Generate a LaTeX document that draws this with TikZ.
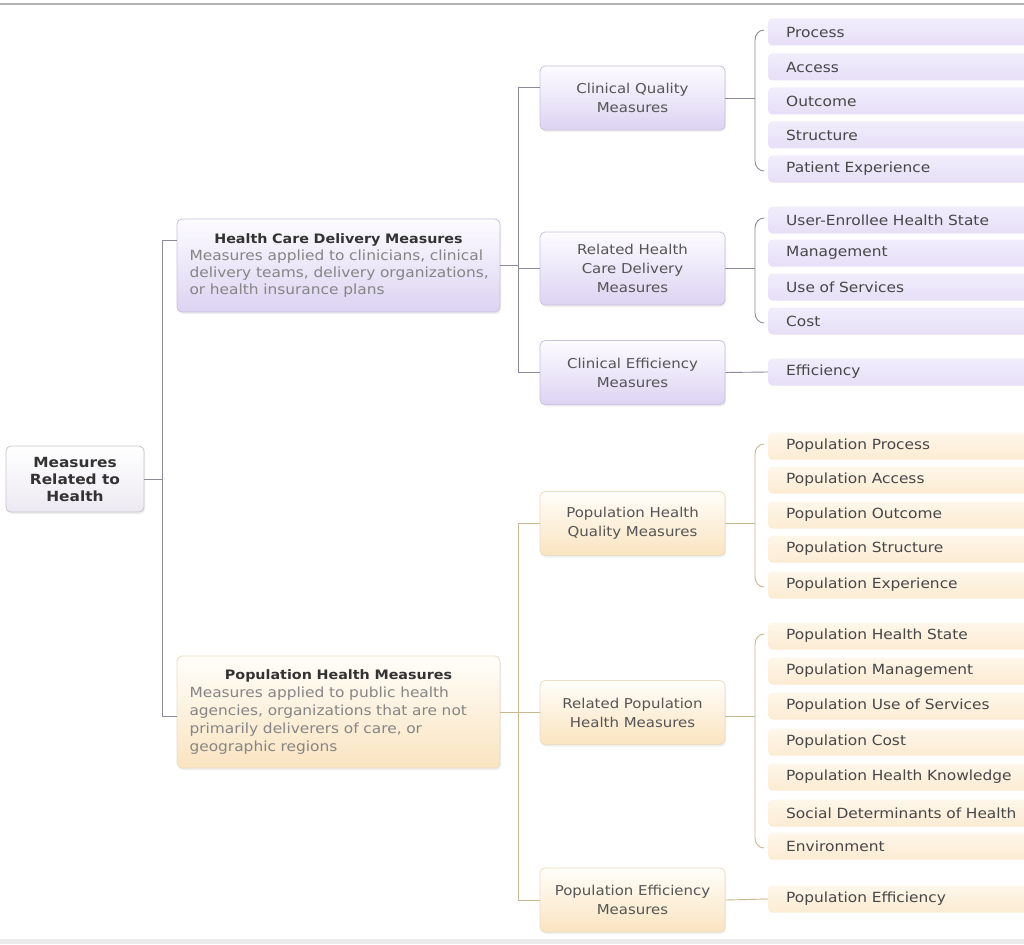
\documentclass[tikz,border=0pt]{standalone}
\usepackage{fontspec}
\setmainfont{DejaVu Sans}[FakeStretch=1.1]
\usetikzlibrary{calc,shadows}
\definecolor{pLeafT}{HTML}{F1EDFC}
\definecolor{pLeafB}{HTML}{E6DFF7}
\definecolor{pBoxT}{HTML}{FDFCFF}
\definecolor{pBoxB}{HTML}{DCD3F2}
\definecolor{pBorder}{HTML}{C9C1DD}
\definecolor{oLeafT}{HTML}{FEF7EA}
\definecolor{oLeafB}{HTML}{FCEBD2}
\definecolor{oBoxT}{HTML}{FFFEFA}
\definecolor{oBoxB}{HTML}{FAE4C0}
\definecolor{oBorder}{HTML}{EADDC2}
\definecolor{rBoxB}{HTML}{EDE9F2}
\definecolor{rBorder}{HTML}{C8C4CE}
\definecolor{pLine}{HTML}{8E8A9A}
\definecolor{oLine}{HTML}{C9B88E}
\definecolor{txtDark}{HTML}{333333}
\definecolor{txtMid}{HTML}{555555}
\definecolor{txtLight}{HTML}{858585}
\tikzset{
  boxbase/.style={rounded corners=5pt, line width=0.8pt, align=center,
    drop shadow={opacity=0.12, shadow xshift=1pt, shadow yshift=-2pt},
    font=\fontsize{13.6}{19}\selectfont, text=txtMid},
  pbox/.style={boxbase, draw=pBorder, top color=pBoxT, bottom color=pBoxB,
    minimum width=185pt, minimum height=64pt},
  obox/.style={boxbase, draw=oBorder, top color=oBoxT, bottom color=oBoxB,
    minimum width=185pt, minimum height=64pt},
  leafbase/.style={rounded corners=4pt, anchor=west, minimum height=27pt,
    text width=240pt, inner xsep=18pt, align=left,
    font=\fontsize{14}{15}\selectfont, text=txtDark!90},
  pleaf/.style={leafbase, top color=pLeafT, bottom color=pLeafB},
  oleaf/.style={leafbase, top color=oLeafT, bottom color=oLeafB},
  pcon/.style={draw=pLine, line width=0.9pt},
  ocon/.style={draw=oLine, line width=0.9pt},
}
\begin{document}
\begin{tikzpicture}[x=1pt,y=-1pt]
\useasboundingbox (0,0) rectangle (1024,944);
\fill[white] (0,0) rectangle (1024,944);
\draw[line width=1.5pt, draw=black!30] (0,4) -- (1024,4);
\fill[black!8] (0,939) rectangle (1024,944);

% root
\node[boxbase, draw=rBorder, top color=white, bottom color=rBoxB,
  minimum width=138pt, minimum height=66pt, text=txtDark,
  font=\bfseries\fontsize{14}{17}\selectfont] (root) at (75,479)
  {Measures\\Related to\\Health};

% level 1
\node[boxbase, draw=pBorder, top color=pBoxT, bottom color=pBoxB,
  minimum width=323pt, minimum height=93pt, text width=305pt, align=left,
  font=\fontsize{14}{17}\selectfont, text=txtLight] (hcd) at (338.5,265.5)
  {\centering{\bfseries\fontsize{13}{17}\selectfont\color{txtDark}Health Care Delivery Measures}\par
   \raggedright\leftskip=3.5pt Measures applied to clinicians, clinical\\ delivery teams, delivery organizations,\\ or health insurance plans\par};
\node[boxbase, draw=oBorder, top color=oBoxT, bottom color=oBoxB,
  minimum width=323pt, minimum height=112pt, text width=305pt, align=left,
  font=\fontsize{14}{18}\selectfont, text=txtLight] (phm) at (338.5,712)
  {\centering{\bfseries\fontsize{13}{20}\selectfont\color{txtDark}Population Health Measures}\par
   \raggedright\leftskip=3.5pt Measures applied to public health\\ agencies, organizations that are not\\ primarily deliverers of care, or\\ geographic regions\par};

% level 2 purple
\node[pbox] (cq) at (632.5,98) {Clinical Quality\\Measures};
\node[pbox, minimum height=73pt] (rh) at (632.5,268.5) {Related Health\\Care Delivery\\Measures};
\node[pbox] (ce) at (632.5,372.5) {Clinical Efficiency\\Measures};

% level 2 orange
\node[obox] (pq) at (632.5,523.5) {Population Health\\Quality Measures};
\node[obox] (rp) at (632.5,712.5) {Related Population\\Health Measures};
\node[obox] (pe) at (632.5,900) {Population Efficiency\\Measures};

% leaves
\node[pleaf] (a1) at (768,32) {Process};
\node[pleaf] (a2) at (768,67) {Access};
\node[pleaf] (a3) at (768,101) {Outcome};
\node[pleaf] (a4) at (768,135) {Structure};
\node[pleaf] (a5) at (768,169) {Patient Experience};
\node[pleaf] (b1) at (768,220) {User-Enrollee Health State};
\node[pleaf] (b2) at (768,253) {Management};
\node[pleaf] (b3) at (768,287) {Use of Services};
\node[pleaf] (b4) at (768,321) {Cost};
\node[pleaf] (c1) at (768,372) {Efficiency};
\node[oleaf] (d1) at (768,446) {Population Process};
\node[oleaf] (d2) at (768,480) {Population Access};
\node[oleaf] (d3) at (768,515) {Population Outcome};
\node[oleaf] (d4) at (768,549) {Population Structure};
\node[oleaf] (d5) at (768,585) {Population Experience};
\node[oleaf] (e1) at (768,636) {Population Health State};
\node[oleaf] (e2) at (768,671) {Population Management};
\node[oleaf] (e3) at (768,706) {Population Use of Services};
\node[oleaf] (e4) at (768,742) {Population Cost};
\node[oleaf] (e5) at (768,777) {Population Health Knowledge};
\node[oleaf] (e6) at (768,813) {Social Determinants of Health};
\node[oleaf] (e7) at (768,846) {Environment};
\node[oleaf] (f1) at (768,899) {Population Efficiency};

% trunk
\coordinate (t1) at (162,240);
\coordinate (t2) at (162,716);
\draw[pcon] (t1) -- (t2);
\draw[pcon] (root.east) -- (root.east -| t1);
\draw[pcon] (t1) -- (t1 -| hcd.west);
\draw[pcon] (t2) -- (t2 -| phm.west);

% purple middle
\coordinate (m1) at (518,87);
\coordinate (m2) at (518,372.5);
\draw[pcon] (m1) -- (m2);
\draw[pcon] (hcd.east) -- (hcd.east -| m1);
\draw[pcon] (m1) -- (m1 -| cq.west);
\draw[pcon] (rh.west -| m1) -- (rh.west);
\draw[pcon] (m2) -- (ce.west);

% orange middle
\coordinate (o1) at (518,523.5);
\coordinate (o2) at (518,900);
\draw[ocon] (o1) -- (o2);
\draw[ocon] (phm.east) -- (phm.east -| o1);
\draw[ocon] (o1) -- (pq.west);
\draw[ocon] (rp.west -| o1) -- (rp.west);
\draw[ocon] (o2) -- (pe.west);

% brackets
\coordinate (ba) at (755,98);
\draw[pcon] (cq.east) -- (ba);
\draw[pcon] ($(a1.west)+(-4,-2)$) to[out=180,in=90] ($(a1.west)+(-13,8)$) -- ($(a5.west)+(-13,-8)$) to[out=-90,in=180] ($(a5.west)+(-4,2)$);
\coordinate (bb) at (755,268.5);
\draw[pcon] (rh.east) -- (bb);
\draw[pcon] ($(b1.west)+(-4,-2)$) to[out=180,in=90] ($(b1.west)+(-13,8)$) -- ($(b4.west)+(-13,-8)$) to[out=-90,in=180] ($(b4.west)+(-4,2)$);
\draw[pcon] (ce.east) -- (c1.west);
\coordinate (bd) at (755,523.5);
\draw[ocon] (pq.east) -- (bd);
\draw[ocon] ($(d1.west)+(-4,-2)$) to[out=180,in=90] ($(d1.west)+(-13,8)$) -- ($(d5.west)+(-13,-8)$) to[out=-90,in=180] ($(d5.west)+(-4,2)$);
\coordinate (be) at (755,716);
\draw[ocon] (rp.east |- be) -- (be);
\draw[ocon] ($(e1.west)+(-4,-2)$) to[out=180,in=90] ($(e1.west)+(-13,8)$) -- ($(e7.west)+(-13,-8)$) to[out=-90,in=180] ($(e7.west)+(-4,2)$);
\draw[ocon] (pe.east) -- (f1.west);
\end{tikzpicture}
\end{document}
